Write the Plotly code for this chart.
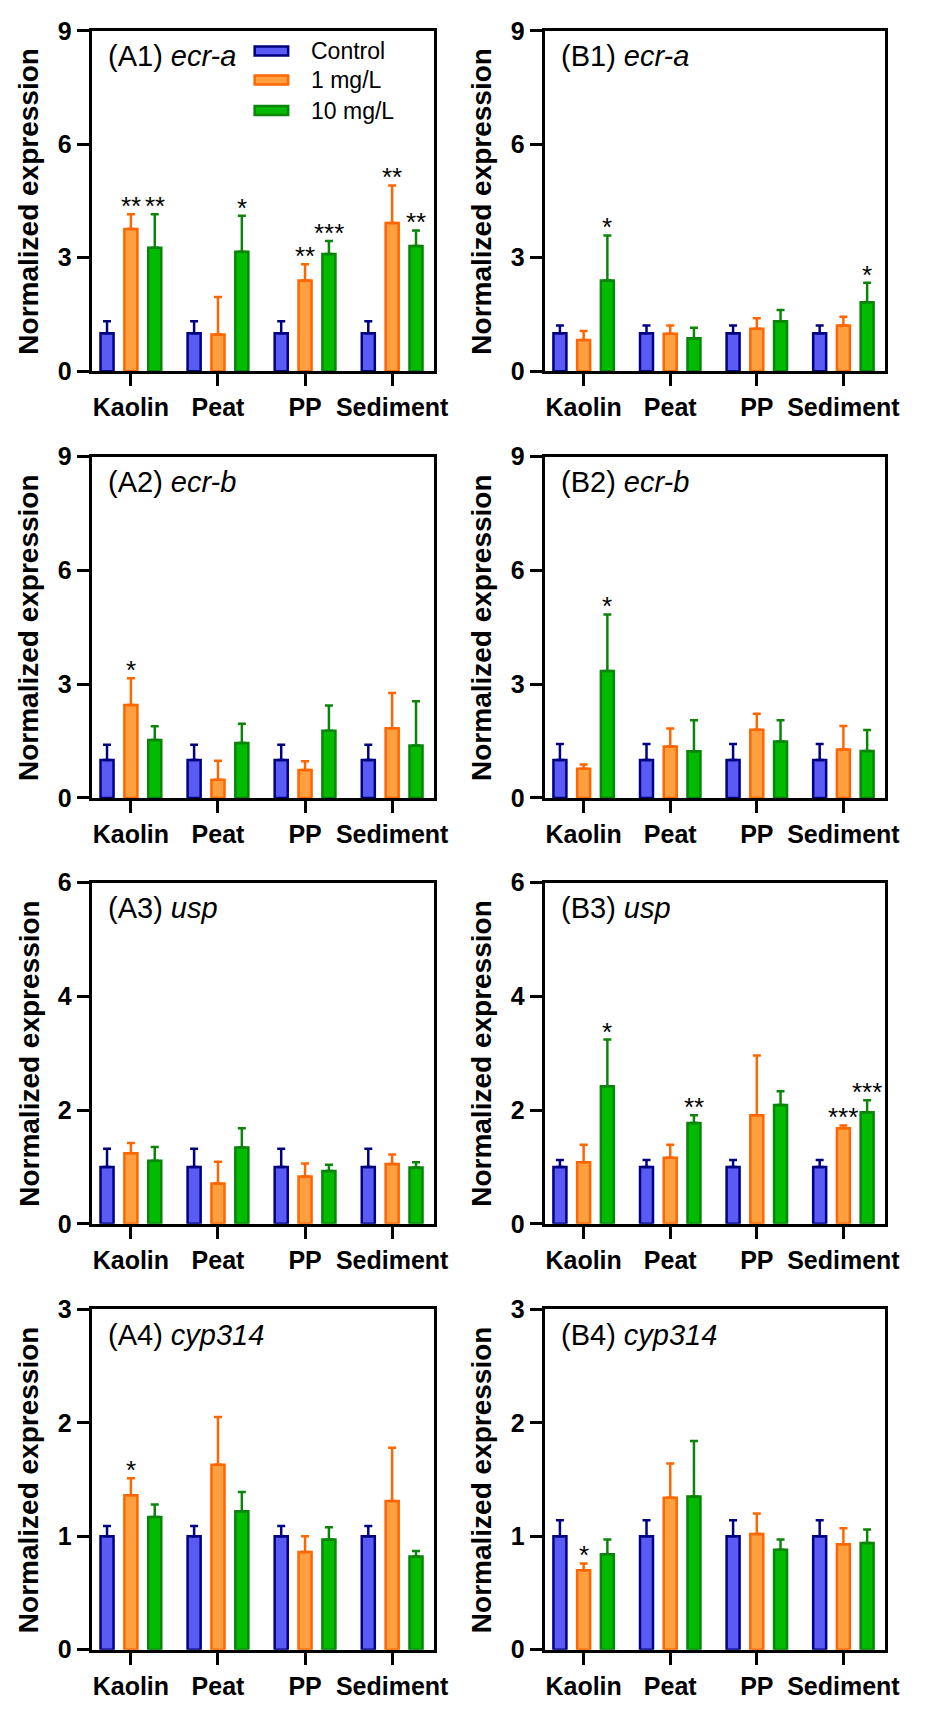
import plotly.graph_objects as go
from plotly.subplots import make_subplots

categories = ["Kaolin", "Peat", "PP", "Sediment"]
groups = ["Control", "1 mg/L", "10 mg/L"]

# ---- data: means / SD (rows: Control, 1 mg/L, 10 mg/L; cols: Kaolin, Peat, PP, Sediment)
A1_mean = [[1.00, 1.00, 1.00, 1.00], [3.76, 0.97, 2.40, 3.92], [3.26, 3.16, 3.10, 3.31]]
A1_sd = [[0.32, 0.32, 0.32, 0.32], [0.39, 0.99, 0.43, 0.99], [0.89, 0.95, 0.34, 0.41]]
A1_sig = [["", "", "", ""], ["**", "", "**", "**"], ["**", "*", "***", "**"]]

B1_mean = [[1.00, 1.00, 1.00, 1.00], [0.82, 0.99, 1.12, 1.21], [2.40, 0.87, 1.32, 1.82]]
B1_sd = [[0.21, 0.21, 0.21, 0.21], [0.24, 0.22, 0.28, 0.23], [1.19, 0.28, 0.30, 0.52]]
B1_sig = [["", "", "", ""], ["", "", "", ""], ["*", "", "", "*"]]

A2_mean = [[1.00, 1.00, 1.00, 1.00], [2.45, 0.48, 0.74, 1.84], [1.53, 1.45, 1.77, 1.38]]
A2_sd = [[0.40, 0.40, 0.40, 0.40], [0.71, 0.50, 0.23, 0.93], [0.36, 0.51, 0.67, 1.17]]
A2_sig = [["", "", "", ""], ["*", "", "", ""], ["", "", "", ""]]

B2_mean = [[1.00, 1.00, 1.00, 1.00], [0.77, 1.36, 1.80, 1.28], [3.35, 1.23, 1.49, 1.24]]
B2_sd = [[0.42, 0.42, 0.42, 0.42], [0.11, 0.47, 0.42, 0.62], [1.49, 0.82, 0.56, 0.55]]
B2_sig = [["", "", "", ""], ["", "", "", ""], ["*", "", "", ""]]

A3_mean = [[1.00, 1.00, 1.00, 1.00], [1.24, 0.71, 0.83, 1.05], [1.11, 1.34, 0.93, 0.99]]
A3_sd = [[0.32, 0.32, 0.32, 0.32], [0.18, 0.38, 0.23, 0.17], [0.24, 0.34, 0.11, 0.09]]
A3_sig = [["", "", "", ""], ["", "", "", ""], ["", "", "", ""]]

B3_mean = [[1.00, 1.00, 1.00, 1.00], [1.08, 1.16, 1.91, 1.68], [2.42, 1.77, 2.09, 1.96]]
B3_sd = [[0.12, 0.12, 0.12, 0.12], [0.31, 0.23, 1.05, 0.05], [0.82, 0.14, 0.24, 0.21]]
B3_sig = [["", "", "", ""], ["", "", "", "***"], ["*", "**", "", "***"]]

A4_mean = [[1.00, 1.00, 1.00, 1.00], [1.36, 1.63, 0.86, 1.31], [1.17, 1.22, 0.97, 0.82]]
A4_sd = [[0.09, 0.09, 0.09, 0.09], [0.15, 0.42, 0.14, 0.47], [0.11, 0.17, 0.11, 0.05]]
A4_sig = [["", "", "", ""], ["*", "", "", ""], ["", "", "", ""]]

B4_mean = [[1.00, 1.00, 1.00, 1.00], [0.70, 1.34, 1.02, 0.93], [0.84, 1.35, 0.88, 0.94]]
B4_sd = [[0.14, 0.14, 0.14, 0.14], [0.06, 0.30, 0.18, 0.14], [0.13, 0.49, 0.09, 0.12]]
B4_sig = [["", "", "", ""], ["*", "", "", ""], ["", "", "", ""]]

y_max = [9, 9, 6, 3]
y_dtick = [3, 3, 2, 1]

panels = [
    ("A1", "ecr-a", A1_mean, A1_sd, A1_sig, 1, 1),
    ("B1", "ecr-a", B1_mean, B1_sd, B1_sig, 1, 2),
    ("A2", "ecr-b", A2_mean, A2_sd, A2_sig, 2, 1),
    ("B2", "ecr-b", B2_mean, B2_sd, B2_sig, 2, 2),
    ("A3", "usp", A3_mean, A3_sd, A3_sig, 3, 1),
    ("B3", "usp", B3_mean, B3_sd, B3_sig, 3, 2),
    ("A4", "cyp314", A4_mean, A4_sd, A4_sig, 4, 1),
    ("B4", "cyp314", B4_mean, B4_sd, B4_sig, 4, 2),
]

# ---- style
fills = ["#5a5af5", "#ffa040", "#00bb00"]
edges = ["#000080", "#ff6600", "#0a850a"]
BAR_W = 0.15
BAR_STEP = 0.274
FONT = "Liberation Sans, Arial, Helvetica, sans-serif"

# page is 933x1709; the default page margin is 8 px, so the figure is 16 px smaller
PAGE_W, PAGE_H = 933, 1709
PAD = 8
W, H = PAGE_W - 2 * PAD, PAGE_H - 2 * PAD
col_px = {1: (93, 441), 2: (553, 899)}
row_px = {1: (17, 363), 2: (450, 797), 3: (883, 1230), 4: (1317, 1663)}


def px_x(p):
    return (p - PAD) / W


def px_y(p):
    return 1 - (p - PAD) / H


fig = make_subplots(rows=4, cols=2)
annotations = []

for label, gene, mean, sd, sig, r, c in panels:
    k = (r - 1) * 2 + c
    xa = "x" if k == 1 else f"x{k}"
    ya = "y" if k == 1 else f"y{k}"
    for j in range(3):
        off = (j - 1) * BAR_STEP
        fig.add_trace(
            go.Bar(
                x=categories,
                y=mean[j],
                name=groups[j],
                width=BAR_W,
                offset=off - BAR_W / 2,
                marker=dict(color=fills[j], line=dict(color=edges[j], width=2.5)),
                error_y=dict(
                    type="data",
                    array=sd[j],
                    arrayminus=[0] * 4,
                    symmetric=False,
                    color=edges[j],
                    thickness=2.5,
                    width=4,
                ),
                showlegend=False,
            ),
            row=r,
            col=c,
        )
        for i in range(4):
            if sig[j][i]:
                annotations.append(
                    dict(
                        x=i + off,
                        y=mean[j][i] + sd[j][i],
                        xref=xa,
                        yref=ya,
                        text=sig[j][i],
                        showarrow=False,
                        xanchor="center",
                        yanchor="bottom",
                        yshift=-9,
                        font=dict(family=FONT, size=26, color="black"),
                    )
                )
    x0, x1 = col_px[c]
    y0, y1 = row_px[r]
    axis_x = dict(
        domain=[px_x(x0), px_x(x1)],
        range=[-0.45, 3.485],
        showline=True,
        mirror=True,
        linecolor="black",
        linewidth=3,
        ticks="outside",
        ticklen=12,
        tickwidth=3,
        tickcolor="black",
        tickfont=dict(family=FONT, size=25, color="black", weight="bold"),
        showgrid=False,
        zeroline=False,
    )
    axis_y = dict(
        domain=[px_y(y1), px_y(y0)],
        range=[0, y_max[r - 1]],
        dtick=y_dtick[r - 1],
        tick0=0,
        showline=True,
        mirror=True,
        linecolor="black",
        linewidth=3,
        ticks="outside",
        ticklen=12,
        tickwidth=3,
        tickcolor="black",
        tickfont=dict(family=FONT, size=25, color="black", weight="bold"),
        showgrid=False,
        zeroline=False,
    )
    fig.update_layout(**{("xaxis" if k == 1 else f"xaxis{k}"): axis_x,
                         ("yaxis" if k == 1 else f"yaxis{k}"): axis_y})
    # panel label
    annotations.append(
        dict(
            x=px_x(x0 + 15),
            y=px_y(y0 + 26),
            xref="paper",
            yref="paper",
            text=f"({label}) <i>{gene}</i>",
            showarrow=False,
            xanchor="left",
            yanchor="middle",
            font=dict(family=FONT, size=29, color="black"),
        )
    )
    # y title
    annotations.append(
        dict(
            x=px_x(x0 - 64),
            y=px_y((y0 + y1) / 2),
            xref="paper",
            yref="paper",
            text="<b>Normalized expression</b>",
            textangle=-90,
            showarrow=False,
            xanchor="center",
            yanchor="middle",
            font=dict(family=FONT, size=28, color="black"),
        )
    )

# ---- legend (drawn in panel A1)
shapes = []
leg_y = [37.5, 67, 98]
for j in range(3):
    shapes.append(
        dict(
            type="rect",
            xref="paper",
            yref="paper",
            x0=px_x(258.5),
            x1=px_x(292.5),
            y0=px_y(leg_y[j] + 4.5),
            y1=px_y(leg_y[j] - 4.5),
            fillcolor=fills[j],
            line=dict(color=edges[j], width=2.5),
        )
    )
    annotations.append(
        dict(
            x=px_x(314),
            y=px_y(leg_y[j]),
            xref="paper",
            yref="paper",
            text=groups[j],
            showarrow=False,
            xanchor="left",
            yanchor="middle",
            font=dict(family=FONT, size=23, color="black"),
        )
    )

fig.update_layout(
    width=W,
    height=H,
    margin=dict(l=0, r=0, t=0, b=0),
    paper_bgcolor="white",
    plot_bgcolor="white",
    barmode="group",
    showlegend=False,
    annotations=annotations,
    shapes=shapes,
    font=dict(family=FONT, color="black"),
)

fig.write_html("out.html")
